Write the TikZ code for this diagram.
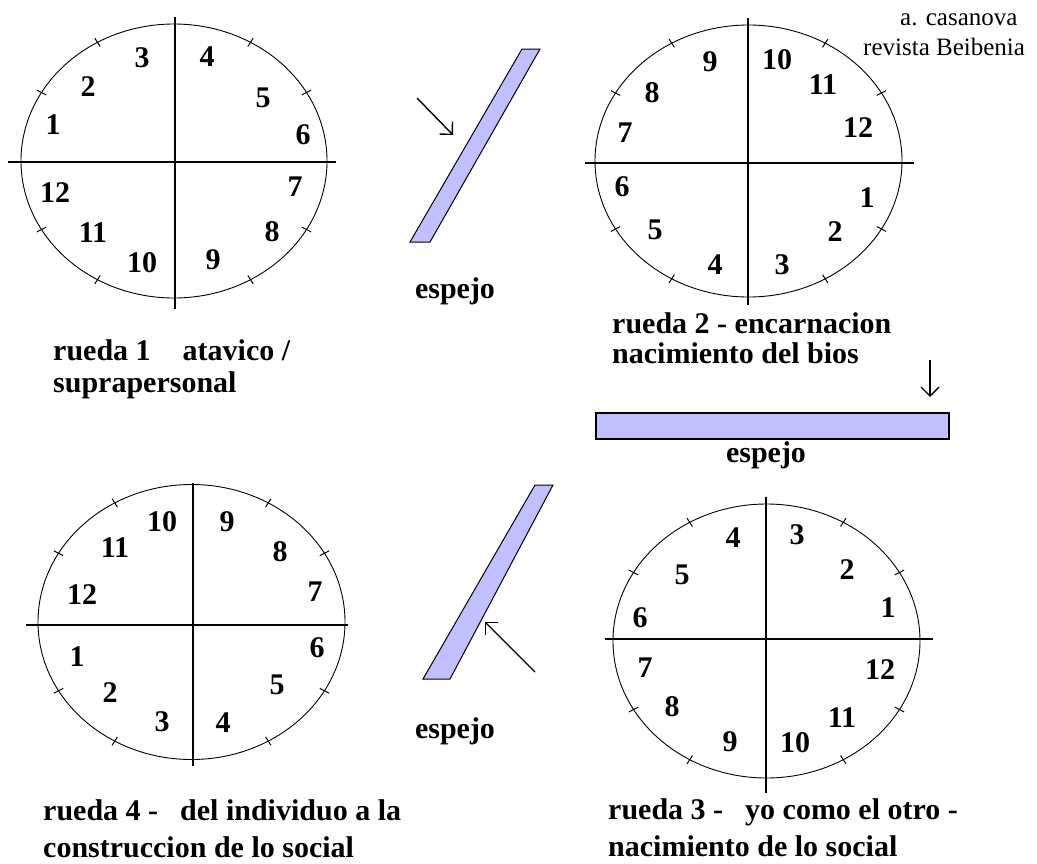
\documentclass[tikz,border=0pt]{standalone}
\usepackage{fontspec}
\setmainfont{Liberation Serif}
\usetikzlibrary{arrows.meta,calc}
\definecolor{mirrorfill}{RGB}{192,192,255}
\tikzset{
  num/.style={font=\fontsize{30}{32}\selectfont\bfseries, inner sep=0pt},
  lbl/.style={font=\fontsize{30}{32}\selectfont\bfseries, inner sep=0pt, anchor=base west},
  mlbl/.style={font=\fontsize{30}{32}\selectfont\bfseries, inner sep=0pt, anchor=base},
  credit/.style={font=\fontsize{25}{27}\selectfont, inner sep=0pt, anchor=base west},
  rim/.style={line width=0.9pt},
  axisline/.style={line width=1.2pt},
  tickmark/.style={line width=1pt},
  mirrorbar/.style={draw=black, line width=1pt, fill=mirrorfill},
  ray/.style={line width=1.4pt, -{Straight Barb[length=9pt,width=18pt]}},
}
\newcommand{\rkclock}[5]{%
  \coordinate (#1) at (#2,#3);
  \draw[rim] (#1) ellipse [x radius=#4pt, y radius=#5pt];
  \foreach \a in {30,60,120,150,210,240,300,330}
    \draw[tickmark] ($(#1)+({0.965*#4*cos(\a)},{0.965*#5*sin(\a)})$) -- ($(#1)+({1.035*#4*cos(\a)},{1.035*#5*sin(\a)})$);
}
\begin{document}
\begin{tikzpicture}[x=1pt,y=-1pt]
\useasboundingbox (0,0) rectangle (1037,863);
\fill[white] (0,0) rectangle (1037,863);

% ---- clock 1 ----
\rkclock{c1}{174}{161}{153}{137}
\coordinate (c1L) at (8,162); \coordinate (c1R) at (336,162);
\coordinate (c1T) at (175,17); \coordinate (c1B) at (175,309);
\draw[axisline] (c1L) -- (c1R);
\draw[axisline] (c1T) -- (c1B);
\foreach \t/\x/\y in {3/142/58,4/207/57,2/88/87,5/263/98,1/53/125,6/303/135,12/55/193,7/295/187,11/93/233,8/272/232,10/142/263,9/213/260}
  \node[num] (c1n\t) at (\x,\y) {\t};

% ---- clock 2 ----
\rkclock{c2}{748.5}{161}{153.5}{136}
\coordinate (c2L) at (585,163); \coordinate (c2R) at (914,163);
\coordinate (c2T) at (748,18); \coordinate (c2B) at (748,305);
\draw[axisline] (c2L) -- (c2R);
\draw[axisline] (c2T) -- (c2B);
\foreach \t/\x/\y in {9/710/62,10/777/60,8/652/93,11/823/85,7/625/133,12/858/128,6/622/187,1/867/198,5/655/230,2/835/232,4/715/265,3/782/265}
  \node[num] (c2n\t) at (\x,\y) {\t};

% ---- clock 3 ----
\rkclock{c3}{766.5}{641}{153.5}{137}
\coordinate (c3L) at (605,639); \coordinate (c3R) at (933,639);
\coordinate (c3T) at (766,497); \coordinate (c3B) at (766,793);
\draw[axisline] (c3L) -- (c3R);
\draw[axisline] (c3T) -- (c3B);
\foreach \t/\x/\y in {4/733/538,3/797/535,5/682/575,2/847/570,6/640/618,1/888/608,7/645/668,12/880/670,8/672/707,11/842/718,9/730/742,10/795/743}
  \node[num] (c3n\t) at (\x,\y) {\t};

% ---- clock 4 ----
\rkclock{c4}{191.5}{622}{153.5}{137.5}
\coordinate (c4L) at (26,625); \coordinate (c4R) at (348,625);
\coordinate (c4T) at (193,483); \coordinate (c4B) at (193,766);
\draw[axisline] (c4L) -- (c4R);
\draw[axisline] (c4T) -- (c4B);
\foreach \t/\x/\y in {10/162/522,9/227/522,11/115/548,8/280/552,12/82/595,7/315/592,1/77/657,6/317/648,2/110/693,5/277/685,3/162/722,4/223/723}
  \node[num] (c4n\t) at (\x,\y) {\t};

% ---- mirrors ----
\draw[mirrorbar] (522,49) -- (540,49) -- (430,242) -- (410,242) -- cycle;
\draw[mirrorbar] (535,485) -- (553,485) -- (450,679) -- (423,679) -- cycle;
\node[mirrorbar, line width=1.5pt, anchor=north west, inner sep=0pt, minimum width=353pt, minimum height=26pt] (m3) at (595,412) {};

% ---- arrows ----
\coordinate (a1s) at (417,98);  \coordinate (a1e) at (453,135);
\coordinate (a2s) at (535,672); \coordinate (a2e) at (485,622);
\coordinate (a3s) at (930,360); \coordinate (a3e) at (930,397);
\draw[ray] (a1s) -- (a1e);
\draw[ray] (a2s) -- (a2e);
\draw[ray] (a3s) -- (a3e);

% ---- mirror labels ----
\node[mlbl] (e1) at (455,298) {espejo};
\node[mlbl] (e2) at (455,738) {espejo};
\node[mlbl] (e3) at (766,462) {espejo};

% ---- wheel labels ----
\node[lbl] (r1a) at (53,360) {rueda 1\hspace{32pt}atavico /};
\node[lbl] (r1b) at (53,392) {suprapersonal};
\node[lbl] (r2a) at (612,333) {rueda 2 - encarnacion};
\node[lbl] (r2b) at (612,363) {nacimiento del bios};
\node[lbl] (r4a) at (43,820) {rueda 4 -\hspace{22pt}del individuo a la};
\node[lbl] (r4b) at (43,857) {construccion de lo social};
\node[lbl] (r3a) at (608,819) {rueda 3 -\hspace{22pt}yo como el otro -};
\node[lbl] (r3b) at (608,856) {nacimiento de lo social};

% ---- credit ----
\node[credit] (cr1) at (900,25) {a. casanova};
\node[credit] (cr2) at (863,55) {revista Beibenia};
\end{tikzpicture}
\end{document}
